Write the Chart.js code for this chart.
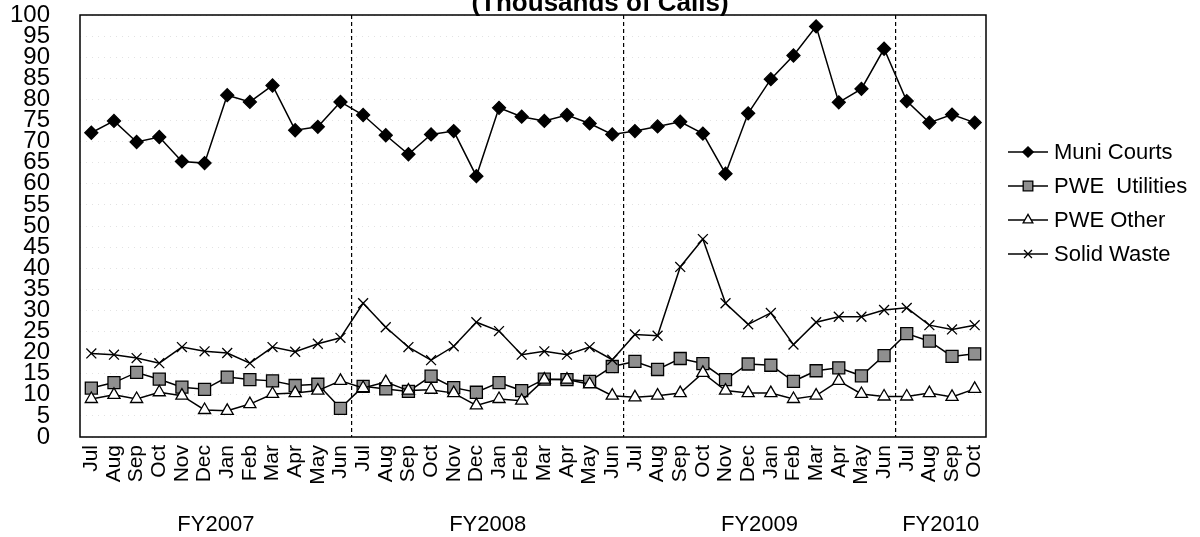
<!DOCTYPE html>
<html>
<head>
<meta charset="utf-8">
<script src="https://cdn.jsdelivr.net/npm/chart.js@4.4.1/dist/chart.umd.min.js"></script>
<style>
  html, body { margin: 0; padding: 0; background: #fff; }
  #wrap { width: 1200px; height: 537px; }
</style>
</head>
<body>
<div id="wrap"><canvas id="callsChart"></canvas></div>
<script>
const months = [
    'Jul','Aug','Sep','Oct','Nov','Dec','Jan','Feb','Mar','Apr','May','Jun',
    'Jul','Aug','Sep','Oct','Nov','Dec','Jan','Feb','Mar','Apr','May','Jun',
    'Jul','Aug','Sep','Oct','Nov','Dec','Jan','Feb','Mar','Apr','May','Jun',
    'Jul','Aug','Sep','Oct'
];
const fiscalYears = ['FY2007', 'FY2008', 'FY2009', 'FY2010'];
const titleText = '(Thousands of Calls)';

const muniCourts = [72.1, 74.9, 69.9, 71.1, 65.3, 64.9, 81.0, 79.4, 83.3, 72.7, 73.5, 79.4,
    76.3, 71.5, 67.0, 71.7, 72.5, 61.8, 78.0, 75.9, 74.9, 76.3, 74.3, 71.7,
    72.5, 73.6, 74.7, 71.9, 62.4, 76.7, 84.8, 90.4, 97.3, 79.3, 82.5, 92.0,
    79.6, 74.5, 76.4, 74.5];
const pweUtilities = [11.6, 12.9, 15.3, 13.7, 11.8, 11.3, 14.2, 13.6, 13.3, 12.2, 12.5, 6.8,
    12.0, 11.4, 10.8, 14.4, 11.7, 10.6, 12.9, 11.0, 13.7, 13.6, 13.2, 16.7,
    17.9, 16.0, 18.6, 17.4, 13.6, 17.3, 17.0, 13.2, 15.7, 16.4, 14.5, 19.3,
    24.5, 22.7, 19.1, 19.7];
const pweOther = [9.0, 10.0, 9.0, 10.6, 9.8, 6.4, 6.2, 7.8, 10.2, 10.4, 11.0, 13.3,
    11.6, 13.0, 11.0, 11.2, 10.4, 7.5, 9.0, 8.6, 13.6, 13.6, 12.5, 9.8,
    9.4, 9.8, 10.4, 15.2, 11.0, 10.4, 10.4, 9.0, 9.8, 13.3, 10.2, 9.6,
    9.6, 10.4, 9.5, 11.4];
const solidWaste = [19.8, 19.5, 18.7, 17.5, 21.3, 20.3, 19.9, 17.5, 21.3, 20.2, 22.1, 23.5,
    31.7, 26.0, 21.3, 18.2, 21.5, 27.2, 25.1, 19.5, 20.3, 19.5, 21.3, 18.3,
    24.3, 24.0, 40.3, 46.9, 31.7, 26.7, 29.4, 21.9, 27.2, 28.5, 28.5, 30.1,
    30.6, 26.5, 25.5, 26.5];

const FONT = '"Liberation Sans", Arial, sans-serif';

// index where each fiscal year starts (every Jul)
const yearStarts = months.map((m, i) => m === 'Jul' ? i : -1).filter(i => i >= 0);

function series(label, data, style, radius, fill, order) {
    return {
        label: label, data: data, order: order,
        borderColor: '#000', borderWidth: 1.5, tension: 0,
        pointStyle: style, pointRadius: radius, pointHoverRadius: radius,
        pointBackgroundColor: fill, pointBorderColor: '#000', pointBorderWidth: 1.3
    };
}

// frame, title, fiscal year labels and the legend on the right
const extrasPlugin = {
    id: 'extras',
    afterDraw(chart) {
        const { ctx, chartArea: a, scales: { x } } = chart;
        ctx.save();
        ctx.strokeStyle = '#000';
        ctx.lineWidth = 1.5;
        ctx.strokeRect(a.left, a.top, a.right - a.left, a.bottom - a.top);

        ctx.fillStyle = '#000';
        ctx.font = 'bold 26px ' + FONT;
        ctx.textAlign = 'center';
        ctx.textBaseline = 'alphabetic';
        ctx.fillText(titleText, 600, 11);

        ctx.font = '22px ' + FONT;
        ctx.textBaseline = 'middle';
        yearStarts.forEach((s, i) => {
            const e = i + 1 < yearStarts.length ? yearStarts[i + 1] - 1 : months.length - 1;
            const cx = (x.getPixelForValue(s) + x.getPixelForValue(e)) / 2;
            ctx.fillText(fiscalYears[i], cx, 525);
        });

        // legend
        ctx.textAlign = 'left';
        chart.data.datasets.forEach((ds, i) => {
            const y = 152 + i * 34;
            ctx.strokeStyle = '#000';
            ctx.lineWidth = 1.3;
            ctx.beginPath(); ctx.moveTo(1008, y); ctx.lineTo(1048, y); ctx.stroke();
            ctx.fillStyle = ds.pointBackgroundColor;
            Chart.helpers.drawPoint(ctx, {
                pointStyle: ds.pointStyle, radius: ds.pointRadius * 0.8,
                borderWidth: 1.2, rotation: 0
            }, 1028, y);
            ctx.fillStyle = '#000';
            ctx.fillText(ds.label, 1054, y + 1);
        });
        ctx.restore();
    }
};

new Chart(document.getElementById('callsChart'), {
    type: 'line',
    data: {
        labels: months,
        datasets: [
            series('Muni Courts', muniCourts, 'rectRot', 6.5, '#000', 1),
            series('PWE  Utilities', pweUtilities, 'rect', 8.5, '#8f8f8f', 2),
            series('PWE Other', pweOther, 'triangle', 7, '#fff', 1),
            series('Solid Waste', solidWaste, 'crossRot', 7, '#000', 1)
        ]
    },
    options: {
        responsive: true, maintainAspectRatio: false, animation: false,
        layout: { padding: { top: 15, right: 214, bottom: 0, left: 0 } },
        plugins: { legend: { display: false }, tooltip: { enabled: false }, title: { display: false } },
        scales: {
            x: {
                offset: true,
                grid: {
                    offset: true, drawTicks: false, lineWidth: 1.2,
                    color: c => yearStarts.includes(c.index) && c.index > 0 ? '#000' : 'rgba(0,0,0,0)'
                },
                border: { display: false, dash: [4, 3] },
                ticks: {
                    autoSkip: false, minRotation: 90, maxRotation: 90, padding: 8,
                    color: '#000', font: { family: FONT, size: 21 }
                },
                afterFit: s => { s.height = 100; s.paddingLeft = 0; s.paddingRight = 0; }
            },
            y: {
                min: 0, max: 100,
                grid: { drawTicks: false, color: '#e2e2e2', lineWidth: 1 },
                border: { display: false, dash: [1, 5] },
                ticks: {
                    stepSize: 5, autoSkip: false, padding: 30, color: '#000',
                    font: { family: FONT, size: 24, lineHeight: 0.9 }
                },
                afterFit: s => { s.width = 80; s.paddingTop = 0; s.paddingBottom = 0; }
            }
        }
    },
    plugins: [extrasPlugin]
});
</script>
</body>
</html>
